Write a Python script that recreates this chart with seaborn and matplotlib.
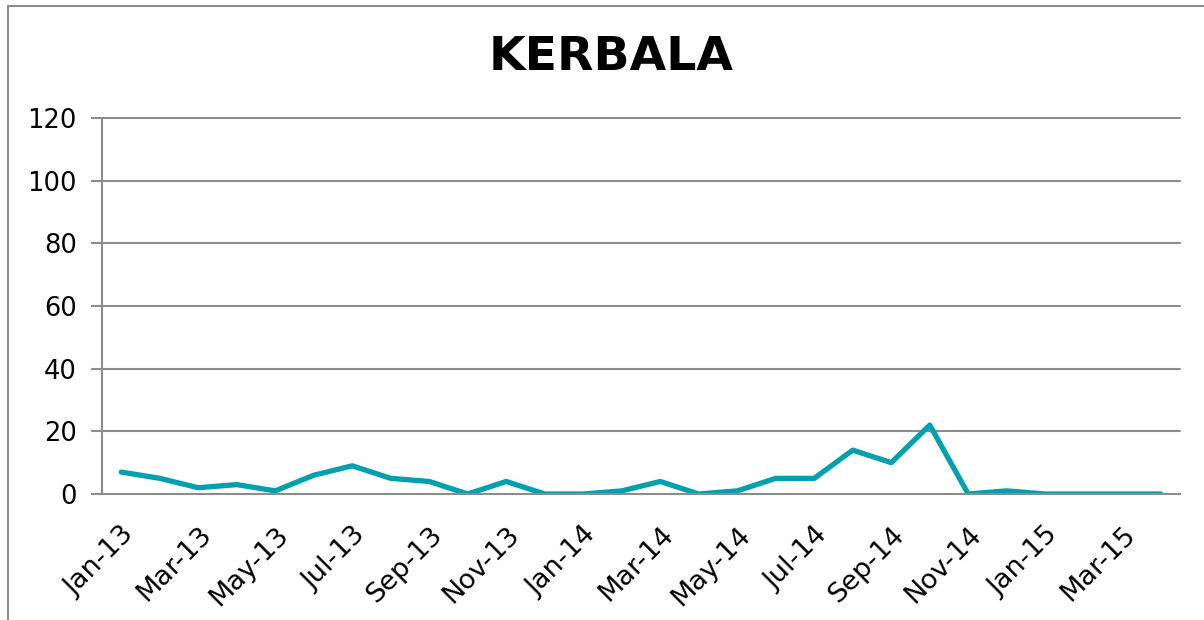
import pandas as pd
import numpy as np
import matplotlib.pyplot as plt
import seaborn as sns
from matplotlib.patches import Rectangle

months = ["Jan-13", "Feb-13", "Mar-13", "Apr-13", "May-13", "Jun-13", "Jul-13",
          "Aug-13", "Sep-13", "Oct-13", "Nov-13", "Dec-13", "Jan-14", "Feb-14",
          "Mar-14", "Apr-14", "May-14", "Jun-14", "Jul-14", "Aug-14", "Sep-14",
          "Oct-14", "Nov-14", "Dec-14", "Jan-15", "Feb-15", "Mar-15", "Apr-15"]
values = [7, 5, 2, 3, 1, 6, 9, 5, 4, 0, 4, 0, 0, 1,
          4, 0, 1, 5, 5, 14, 10, 22, 0, 1, 0, 0, 0, 0]
y_ticks = [0, 20, 40, 60, 80, 100, 120]

df = pd.DataFrame({"Month": months, "Value": values})
df["Pos"] = np.arange(len(df))

sns.set_theme(style="white")
plt.rcParams['font.family'] = ['DejaVu Sans']

fig = plt.figure(figsize=(12.04, 6.2), dpi=100)
ax = fig.add_axes([102/1204, 1 - 494/620, (1180 - 102)/1204, (494 - 118)/620])

grid_col = '#8c8c8c'
for yv in y_ticks[1:]:
    ax.axhline(yv, color=grid_col, linewidth=1.5, zorder=0, clip_on=False)

sns.lineplot(data=df, x='Pos', y='Value', color='#00A0AF', linewidth=3.8, ax=ax)

ax.set_xlim(-0.5, len(months) - 0.5)
ax.set_ylim(0, 120)
ax.set_yticks(y_ticks)
ax.set_yticklabels([str(v) for v in y_ticks], fontsize=18.5, color='black')

ax.set_xticks(df['Pos'][::2])
ax.set_xticklabels(df['Month'][::2], rotation=45, ha='right',
                   rotation_mode='anchor', fontsize=19.5, color='black')
ax.set_xticks(np.arange(-0.5, len(months), 2), minor=True)
ax.tick_params(axis='x', which='major', length=0, pad=20)
ax.tick_params(axis='x', which='minor', length=8, width=1.5, color=grid_col, direction='out')
ax.tick_params(axis='y', which='major', length=8, width=1.5, color=grid_col,
               direction='out', pad=10)
ax.tick_params(left=True, bottom=True)

for s in ['top', 'right']:
    ax.spines[s].set_visible(False)
for s in ['left', 'bottom']:
    ax.spines[s].set_color(grid_col)
    ax.spines[s].set_linewidth(1.5)

ax.set_xlabel("")
ax.set_ylabel("")

fig.text(611/1204, 1 - 58/620, "KERBALA", ha='center', va='center',
         fontsize=34, fontweight='bold', color='black')

fig.patches.append(Rectangle((8/1204, -0.1), 1.2, 1 - 6/620 + 0.1,
                             transform=fig.transFigure, fill=False,
                             edgecolor='#8c8c8c', linewidth=1.5))

plt.savefig("out.png", dpi=100)
plt.close()
